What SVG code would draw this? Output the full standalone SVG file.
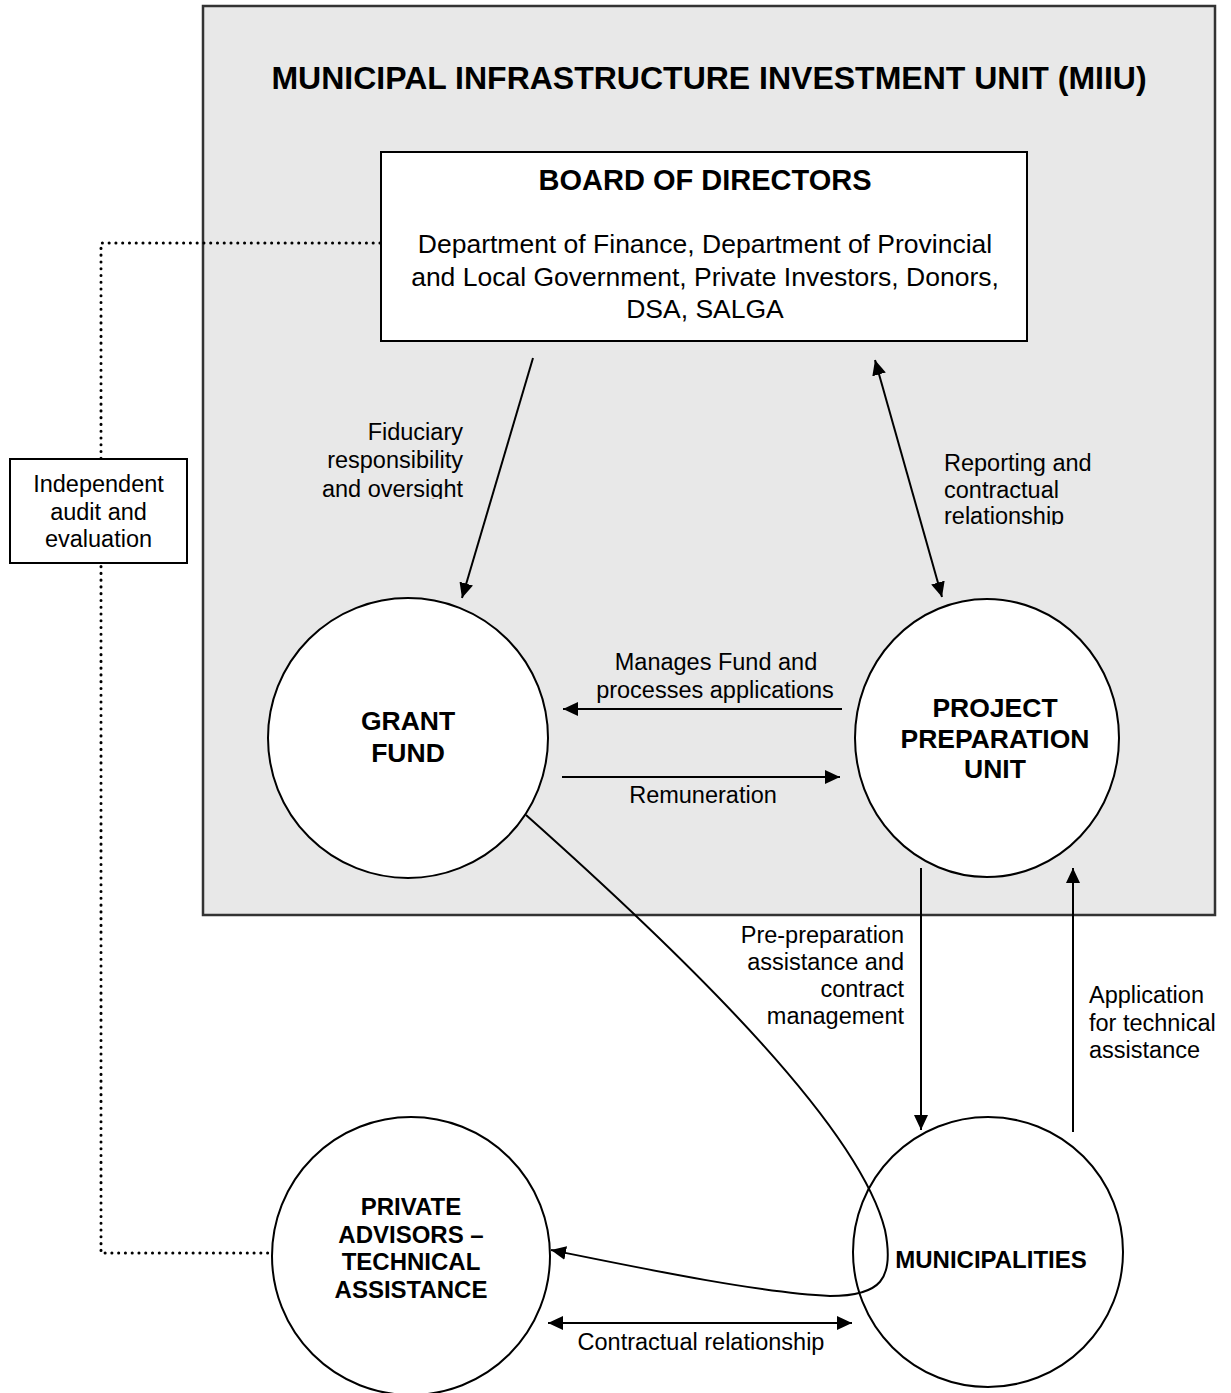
<svg xmlns="http://www.w3.org/2000/svg" width="1231" height="1393" viewBox="0 0 1231 1393">
<style>
.t{font-family:"Liberation Sans",Arial,sans-serif;fill:#000}
.lbl{font-size:23.5px}
.b{font-weight:bold}
.node{fill:#fff;stroke:#000;stroke-width:2}
.con{fill:none;stroke:#000;stroke-width:2}
.dot{fill:none;stroke:#000;stroke-width:3;stroke-dasharray:0.1 6.67;stroke-linecap:round}
</style>
<defs>
<marker id="ah" viewBox="0 0 15 14" refX="15" refY="7" markerWidth="15" markerHeight="14" markerUnits="userSpaceOnUse" orient="auto-start-reverse">
<path d="M0,0 L15,7 L0,14 z" fill="#000"/>
</marker>
<clipPath id="clipFid"><rect x="300" y="400" width="200" height="99"/></clipPath>
<clipPath id="clipRep"><rect x="930" y="430" width="250" height="95"/></clipPath>
</defs>
<rect width="1231" height="1393" fill="#fff"/>

<g id="miiu">
<rect x="203" y="6" width="1012" height="909" fill="#e8e8e8" stroke="#333" stroke-width="2.5"/>
<text class="t b" x="709" y="89" font-size="32" text-anchor="middle">MUNICIPAL INFRASTRUCTURE INVESTMENT UNIT (MIIU)</text>
</g>

<g id="audit-link">
<path class="dot" d="M380,243 H101 V1253 H272"/>
</g>

<g id="board">
<rect x="381" y="152" width="646" height="189" fill="#fff" stroke="#000" stroke-width="2"/>
<text class="t b" x="705" y="190" font-size="29" text-anchor="middle">BOARD OF DIRECTORS</text>
<text class="t" font-size="26.5" text-anchor="middle"><tspan x="705" y="253">Department of Finance, Department of Provincial</tspan><tspan x="705" y="285.5">and Local Government, Private Investors, Donors,</tspan><tspan x="705" y="318">DSA, SALGA</tspan></text>
</g>

<g id="independent-audit">
<rect x="10" y="459" width="177" height="104" fill="#fff" stroke="#000" stroke-width="2"/>
<text class="t lbl" text-anchor="middle"><tspan x="98.5" y="492">Independent</tspan><tspan x="98.5" y="520">audit and</tspan><tspan x="98.5" y="547">evaluation</tspan></text>
</g>

<g id="grant-fund">
<circle class="node" cx="408" cy="738" r="140"/>
<text class="t b" font-size="26.5" text-anchor="middle"><tspan x="408" y="730">GRANT</tspan><tspan x="408" y="762">FUND</tspan></text>
</g>

<g id="ppu">
<ellipse class="node" cx="987" cy="738" rx="132" ry="139"/>
<text class="t b" font-size="26.5" text-anchor="middle"><tspan x="995" y="717">PROJECT</tspan><tspan x="995" y="748">PREPARATION</tspan><tspan x="995" y="778">UNIT</tspan></text>
</g>

<g id="private-advisors">
<circle class="node" cx="411" cy="1256" r="139"/>
<text class="t b" font-size="24" text-anchor="middle"><tspan x="411" y="1215">PRIVATE</tspan><tspan x="411" y="1243">ADVISORS –</tspan><tspan x="411" y="1270">TECHNICAL</tspan><tspan x="411" y="1298">ASSISTANCE</tspan></text>
</g>

<g id="municipalities">
<circle class="node" cx="988" cy="1252" r="135"/>
<text class="t b" x="991" y="1268" font-size="24" text-anchor="middle">MUNICIPALITIES</text>
</g>

<g id="connectors">
<line class="con" x1="533" y1="358" x2="462" y2="598" marker-end="url(#ah)"/>
<line class="con" x1="875" y1="360" x2="942" y2="597" marker-start="url(#ah)" marker-end="url(#ah)"/>
<line class="con" x1="842" y1="709" x2="563" y2="709" marker-end="url(#ah)"/>
<line class="con" x1="562" y1="777" x2="840" y2="777" marker-end="url(#ah)"/>
<line class="con" x1="921" y1="868" x2="921" y2="1130" marker-end="url(#ah)"/>
<line class="con" x1="1073" y1="1132" x2="1073" y2="868" marker-end="url(#ah)"/>
<line class="con" x1="548" y1="1323" x2="852" y2="1323" marker-start="url(#ah)" marker-end="url(#ah)"/>
<path class="con" d="M526,815 C700,970 860,1130 885,1230 C895,1280 880,1296 830,1296 C760,1293 640,1268 551,1250" marker-end="url(#ah)"/>
</g>

<g id="labels">
<text class="t lbl" text-anchor="end" clip-path="url(#clipFid)"><tspan x="463" y="440">Fiduciary</tspan><tspan x="463" y="468">responsibility</tspan><tspan x="463" y="496.5">and oversight</tspan></text>
<text class="t lbl" clip-path="url(#clipRep)"><tspan x="944" y="471">Reporting and</tspan><tspan x="944" y="498">contractual</tspan><tspan x="944" y="523.5">relationship</tspan></text>
<text class="t lbl" text-anchor="middle"><tspan x="716" y="670">Manages Fund and</tspan><tspan x="715" y="698">processes applications</tspan></text>
<text class="t lbl" x="703" y="803" text-anchor="middle">Remuneration</text>
<text class="t lbl" text-anchor="end"><tspan x="904" y="943">Pre-preparation</tspan><tspan x="904" y="970">assistance and</tspan><tspan x="904" y="997">contract</tspan><tspan x="904" y="1024">management</tspan></text>
<text class="t lbl"><tspan x="1089" y="1003">Application</tspan><tspan x="1089" y="1031">for technical</tspan><tspan x="1089" y="1058">assistance</tspan></text>
<text class="t lbl" x="701" y="1350" text-anchor="middle">Contractual relationship</text>
</g>
</svg>
